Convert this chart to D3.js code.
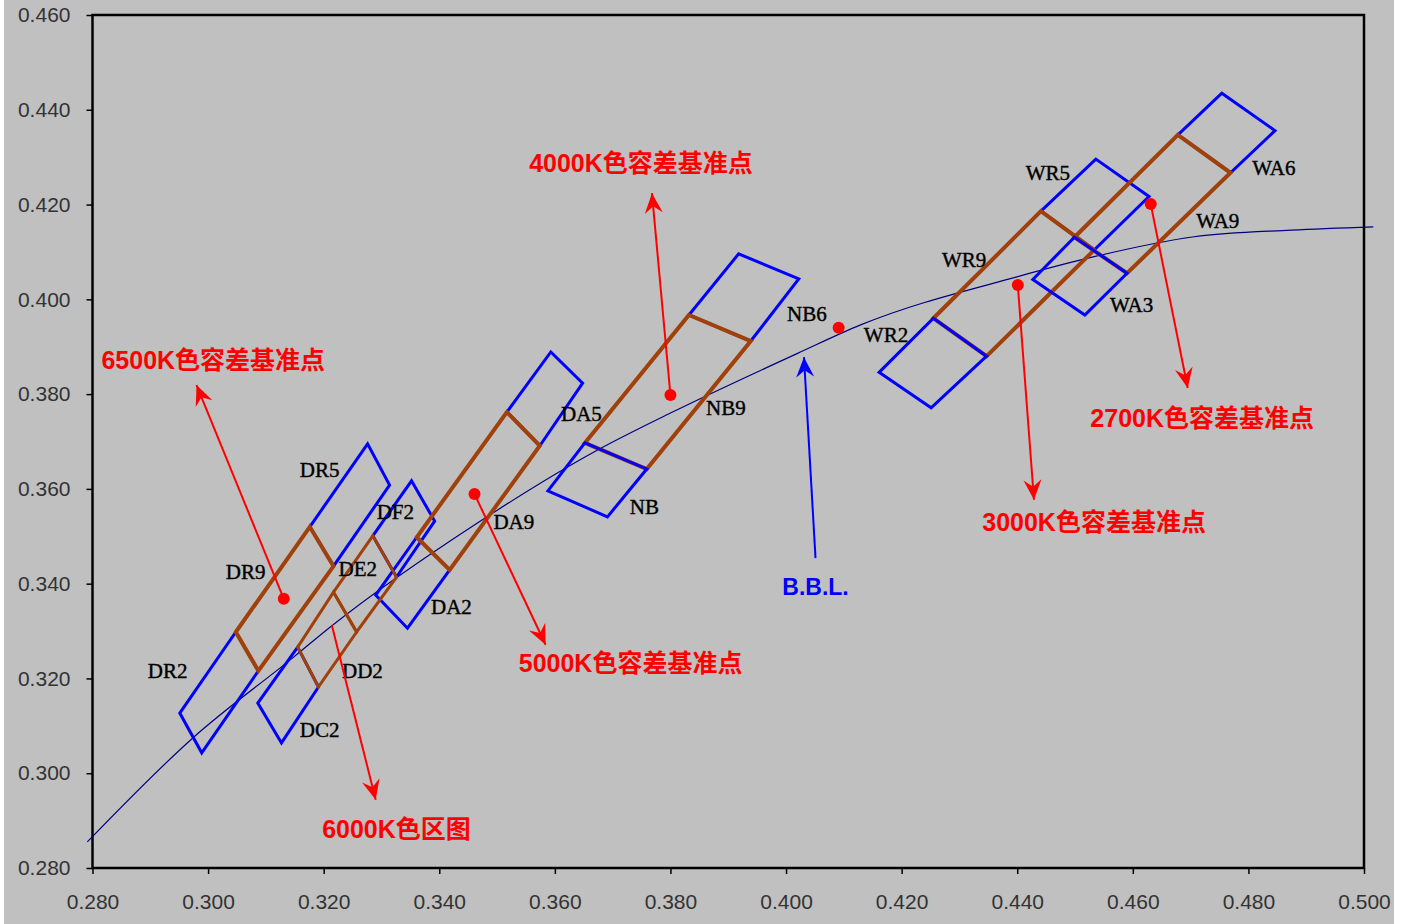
<!DOCTYPE html>
<meta charset="utf-8">
<head>
  <style>
    body { margin: 0; background: #fff; }
    svg { display: block; }
    .bg { fill: #c0c0c0; }
    .frame { fill: none; stroke: #000; stroke-width: 2.5px; }
    .tick line { stroke: #000; stroke-width: 1.5px; }
    .tick text { font-family: "Liberation Sans", Arial, sans-serif; font-size: 21px; fill: #333; }
    .locus { fill: none; stroke: #000080; stroke-width: 1.2px; }
    .blue { fill: none; stroke: #0000ff; stroke-width: 3px; stroke-linejoin: miter; }
    .brown { fill: none; stroke: #a0400a; stroke-width: 4px; }
    .brown.thin { stroke-width: 3px; }
    .dot { fill: #ff0000; }
    .pointer { stroke: #ff0000; stroke-width: 2px; }
    .pointer.bbl { stroke: #0000ff; }
    .bin-label { font-family: "Liberation Serif", "DejaVu Serif", serif; font-size: 21px; fill: #000; stroke: #000; stroke-width: 0.4px; }
    .note { font-family: "Liberation Sans", "Noto Sans CJK SC", sans-serif; font-weight: bold; font-size: 25px; fill: #ff0000; }
    .note.bbl { fill: #0000ff; font-size: 23px; }
  </style>
  <script src="https://d3js.org/d3.v7.min.js"></script>
</head>
<body>
<script>
  // axis ticks
  var xTicks = [0.28, 0.30, 0.32, 0.34, 0.36, 0.38, 0.40, 0.42, 0.44, 0.46, 0.48, 0.50];
  var yTicks = [0.28, 0.30, 0.32, 0.34, 0.36, 0.38, 0.40, 0.42, 0.44, 0.46];

  // black body locus
  var locusX = [0.2791, 0.2975, 0.3148, 0.3212, 0.3466, 0.3674, 0.3800, 0.4020, 0.4129, 0.4401, 0.4533, 0.4706, 0.4874, 0.5016];
  var locusY = [0.2855, 0.3076, 0.3245, 0.3309, 0.3528, 0.3682, 0.3760, 0.3886, 0.3946, 0.4048, 0.4090, 0.4132, 0.4146, 0.4153];

  // blue bins drawn under the brown ones
  var blueNames = ["DR5", "DR2", "DF2", "DC2", "DA5", "DA2", "NB6", "WR5", "WA6"];
  var blueCorners = [
    [[0.3176, 0.3520], [0.3276, 0.3695], [0.3314, 0.3608], [0.3217, 0.3437]],
    [[0.3048, 0.3298], [0.3087, 0.3216], [0.2989, 0.3043], [0.2951, 0.3127]],
    [[0.3285, 0.3501], [0.3352, 0.3617], [0.3392, 0.3532], [0.3326, 0.3414]],
    [[0.3155, 0.3266], [0.3191, 0.3182], [0.3127, 0.3064], [0.3086, 0.3148]],
    [[0.3517, 0.3762], [0.3593, 0.3889], [0.3648, 0.3823], [0.3574, 0.3691]],
    [[0.3361, 0.3498], [0.3418, 0.3429], [0.3345, 0.3306], [0.3290, 0.3376]],
    [[0.3832, 0.3967], [0.3918, 0.4096], [0.4022, 0.4043], [0.3939, 0.3912]],
    [[0.4441, 0.4186], [0.4536, 0.4296], [0.4628, 0.4217], [0.4533, 0.4104]],
    [[0.4678, 0.4347], [0.4754, 0.4435], [0.4846, 0.4356], [0.4769, 0.4267]]
  ];

  // brown tolerance bins
  var brownNames = ["DR9", "DE2", "DD2", "DA9", "NB9", "WR9", "WA9"];
  var brownCorners = [
    [[0.3048, 0.3298], [0.3176, 0.3520], [0.3217, 0.3437], [0.3087, 0.3216]],
    [[0.3217, 0.3382], [0.3285, 0.3501], [0.3326, 0.3414], [0.3257, 0.3298]],
    [[0.3217, 0.3382], [0.3257, 0.3298], [0.3191, 0.3182], [0.3155, 0.3266]],
    [[0.3517, 0.3762], [0.3574, 0.3691], [0.3418, 0.3429], [0.3361, 0.3498]],
    [[0.3832, 0.3967], [0.3939, 0.3912], [0.3759, 0.3642], [0.3652, 0.3697]],
    [[0.4255, 0.3960], [0.4441, 0.4186], [0.4533, 0.4104], [0.4347, 0.3880]],
    [[0.4499, 0.4131], [0.4678, 0.4347], [0.4769, 0.4267], [0.4590, 0.4055]]
  ];
  var thinBrown = ["DE2", "DD2"];

  // blue bins drawn on top
  var topNames = ["NB", "WR2", "WA3"];
  var topCorners = [
    [[0.3652, 0.3697], [0.3759, 0.3642], [0.3691, 0.3541], [0.3588, 0.3596]],
    [[0.4255, 0.3960], [0.4347, 0.3880], [0.4251, 0.3771], [0.4161, 0.3846]],
    [[0.4499, 0.4131], [0.4590, 0.4055], [0.4517, 0.3967], [0.4427, 0.4042]]
  ];

  // where each bin name sits
  var labelNames = ["DR5", "DF2", "DR9", "DE2", "DR2", "DD2", "DA2", "DC2", "DA5", "DA9",
                    "NB9", "NB", "NB6", "WR2", "WR9", "WR5", "WA6", "WA9", "WA3"];
  var labelX = [0.3193, 0.3324, 0.3065, 0.3259, 0.2930, 0.3267, 0.3421, 0.3193, 0.3646, 0.3529,
                0.3896, 0.3755, 0.4036, 0.4173, 0.4308, 0.4453, 0.4844, 0.4747, 0.4598];
  var labelY = [0.3640, 0.3551, 0.3425, 0.3431, 0.3216, 0.3216, 0.3351, 0.3091, 0.3758, 0.3530,
                0.3771, 0.3562, 0.3969, 0.3925, 0.4083, 0.4267, 0.4277, 0.4167, 0.3988];

  // reference points (red dots)
  var refX = [0.3131, 0.3461, 0.3800, 0.4091, 0.4401, 0.4631];
  var refY = [0.3368, 0.3589, 0.3798, 0.3940, 0.4030, 0.4201];

  // callouts: text, arrow start, arrow tip, text centre
  var noteText = ["6500K色容差基准点", "6000K色区图", "5000K色容差基准点", "4000K色容差基准点",
                  "3000K色容差基准点", "2700K色容差基准点", "B.B.L."];
  var noteFrom = [[0.3131, 0.3368], [0.3214, 0.3313], [0.3461, 0.3589], [0.3800, 0.3798],
                  [0.4401, 0.4030], [0.4631, 0.4201], [0.4051, 0.3454]];
  var noteTip  = [[0.2980, 0.3819], [0.3290, 0.2944], [0.3584, 0.3271], [0.3768, 0.4224],
                  [0.4429, 0.3577], [0.4695, 0.3813], [0.4031, 0.3878]];
  var noteAt   = [[0.3009, 0.3872], [0.3326, 0.2882], [0.3731, 0.3233], [0.3749, 0.4288],
                  [0.4533, 0.3530], [0.4720, 0.3750], [0.4051, 0.3393]];

  var W = 1403, H = 924,
      margin = {top: 15, right: 39, bottom: 56, left: 92.5},
      x = d3.scaleLinear().domain([0.28, 0.50]).range([margin.left, W - margin.right]),
      y = d3.scaleLinear().domain([0.28, 0.46]).range([H - margin.bottom, margin.top]);

  var svg = d3.select("body").append("svg")
      .attr("width", W)
      .attr("height", H);

  svg.append("defs").selectAll("marker")
      .data([["arrRed", "#ff0000"], ["arrBlue", "#0000ff"]])
    .enter().append("marker")
      .attr("id", function(d) { return d[0]; })
      .attr("markerUnits", "userSpaceOnUse")
      .attr("viewBox", "-22 -10 24 20")
      .attr("markerWidth", 24).attr("markerHeight", 20)
      .attr("refX", 0).attr("refY", 0)
      .attr("orient", "auto")
    .append("path")
      .attr("d", "M0,0L-20,-9L-13,0L-20,9Z")
      .attr("fill", function(d) { return d[1]; });

  svg.append("rect").attr("class", "bg")
      .attr("x", 4).attr("y", 0).attr("width", 1390).attr("height", H);

  // axes
  svg.append("g")
      .attr("class", "xaxis")
      .attr("transform", "translate(0," + y(0.28) + ")")
      .call(d3.axisBottom(x).tickValues(xTicks).tickFormat(d3.format(".3f")).tickSizeOuter(0).tickSize(6).tickPadding(20))
      .call(function(g) { g.select(".domain").remove(); });

  svg.append("g")
      .attr("class", "yaxis")
      .attr("transform", "translate(" + x(0.28) + ",0)")
      .call(d3.axisLeft(y).tickValues(yTicks).tickFormat(d3.format(".3f")).tickSizeOuter(0).tickSize(6).tickPadding(16))
      .call(function(g) { g.select(".domain").remove(); });

  svg.append("rect").attr("class", "frame")
      .attr("x", x(0.28)).attr("y", y(0.46))
      .attr("width", x(0.50) - x(0.28)).attr("height", y(0.28) - y(0.46));

  var quad = d3.line()
      .x(function(d) { return x(d[0]); })
      .y(function(d) { return y(d[1]); });
  function closed(c) { return quad(c) + "Z"; }

  // locus
  svg.append("path").attr("class", "locus")
      .datum(d3.range(locusX.length))
      .attr("d", d3.line()
          .curve(d3.curveMonotoneX)
          .x(function(i) { return x(locusX[i]); })
          .y(function(i) { return y(locusY[i]); }));

  svg.selectAll(".under").data(blueCorners).enter().append("path")
      .attr("class", "blue under")
      .attr("d", closed);

  svg.selectAll(".tol").data(brownCorners).enter().append("path")
      .attr("class", function(d, i) { return "brown tol" + (thinBrown.indexOf(brownNames[i]) >= 0 ? " thin" : ""); })
      .attr("d", closed);

  svg.selectAll(".over").data(topCorners).enter().append("path")
      .attr("class", "blue over")
      .attr("d", closed);

  svg.selectAll(".bin-label").data(labelNames).enter().append("text")
      .attr("class", "bin-label")
      .attr("x", function(d, i) { return x(labelX[i]); })
      .attr("y", function(d, i) { return y(labelY[i]); })
      .attr("dy", "0.35em")
      .attr("text-anchor", "middle")
      .text(function(d) { return d; });

  // callout arrows
  svg.selectAll(".pointer").data(noteText).enter().append("line")
      .attr("class", function(d) { return d === "B.B.L." ? "pointer bbl" : "pointer"; })
      .attr("x1", function(d, i) { return x(noteFrom[i][0]); })
      .attr("y1", function(d, i) { return y(noteFrom[i][1]); })
      .attr("x2", function(d, i) { return x(noteTip[i][0]); })
      .attr("y2", function(d, i) { return y(noteTip[i][1]); })
      .attr("marker-end", function(d) { return d === "B.B.L." ? "url(#arrBlue)" : "url(#arrRed)"; });

  svg.selectAll(".dot").data(refX).enter().append("circle")
      .attr("class", "dot")
      .attr("cx", function(d) { return x(d); })
      .attr("cy", function(d, i) { return y(refY[i]); })
      .attr("r", 6);

  svg.selectAll(".note").data(noteText).enter().append("text")
      .attr("class", function(d) { return d === "B.B.L." ? "note bbl" : "note"; })
      .attr("x", function(d, i) { return x(noteAt[i][0]); })
      .attr("y", function(d, i) { return y(noteAt[i][1]); })
      .attr("dy", "0.35em")
      .attr("text-anchor", "middle")
      .text(function(d) { return d; });
</script>
</body>
